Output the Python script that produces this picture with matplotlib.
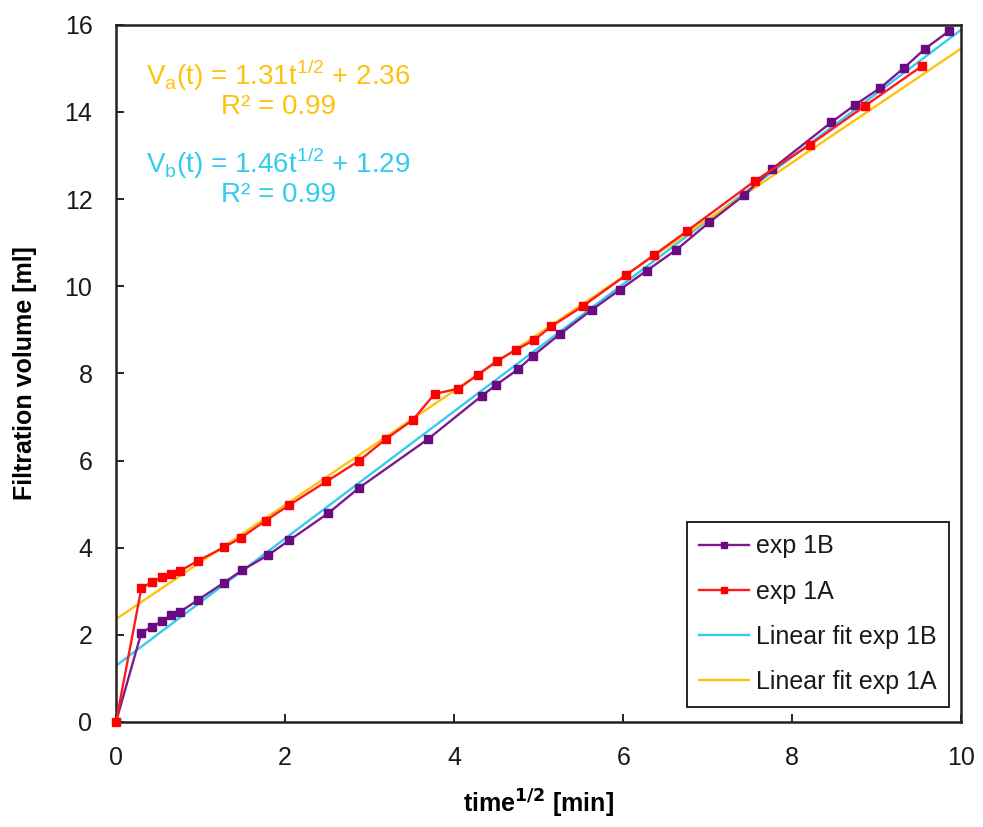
import matplotlib
matplotlib.use("Agg")
import matplotlib.pyplot as plt
import numpy as np

plt.rcParams['font.family'] = ['Liberation Sans', 'DejaVu Sans']

# exp 1A (red)
x_1a = [0, 0.30, 0.43, 0.55, 0.65, 0.76, 0.97, 1.28, 1.48, 1.77, 2.05, 2.49, 2.88, 3.19,
        3.51, 3.77, 4.05, 4.28, 4.51, 4.73, 4.95, 5.15, 5.52, 6.03, 6.36, 6.75, 7.56,
        8.21, 8.86, 9.53]
y_1a = [0, 3.07, 3.22, 3.32, 3.40, 3.47, 3.70, 4.01, 4.23, 4.62, 4.98, 5.52, 6.00, 6.49,
        6.93, 7.53, 7.65, 7.97, 8.29, 8.54, 8.77, 9.08, 9.54, 10.25, 10.71, 11.26, 12.42,
        13.25, 14.14, 15.05]

# exp 1B (purple)
x_1b = [0, 0.30, 0.43, 0.55, 0.65, 0.76, 0.97, 1.28, 1.49, 1.80, 2.05, 2.51, 2.88, 3.69,
        4.33, 4.50, 4.76, 4.93, 5.25, 5.63, 5.96, 6.28, 6.63, 7.02, 7.43, 7.76, 8.46,
        8.74, 9.04, 9.32, 9.57, 9.85]
y_1b = [0, 2.05, 2.19, 2.32, 2.45, 2.53, 2.80, 3.20, 3.48, 3.83, 4.17, 4.79, 5.38, 6.49,
        7.49, 7.74, 8.10, 8.40, 8.90, 9.46, 9.92, 10.36, 10.84, 11.47, 12.09, 12.69, 13.76,
        14.16, 14.55, 15.01, 15.45, 15.85]

# linear fits
slope_a, icpt_a = 1.31, 2.36
slope_b, icpt_b = 1.46, 1.29
fit_x = [0, 10]

c_purple = '#7E1A8E'
c_red = '#FF1A1A'
c_cyan = '#33CCEE'
c_yellow = '#FFC20E'

fig = plt.figure(figsize=(9.83, 8.27), dpi=100)
ax = fig.add_axes([0.118, 0.127, 0.860, 0.843])

fx = np.array(fit_x, dtype=float)
l_fb, = ax.plot(fx, slope_b * fx + icpt_b, color=c_cyan, lw=1.7, label='Linear fit exp 1B', zorder=2)
l_fa, = ax.plot(fx, slope_a * fx + icpt_a, color=c_yellow, lw=1.7, label='Linear fit exp 1A', zorder=2)
l_b, = ax.plot(x_1b, y_1b, color=c_purple, lw=1.7, marker='s', ms=6, mfc='#6A0A80', mec='#6A0A80',
               label='exp 1B', zorder=3)
l_a, = ax.plot(x_1a, y_1a, color=c_red, lw=1.7, marker='s', ms=6, mfc='#FF0000', mec='#FF0000',
               label='exp 1A', zorder=4, clip_on=False)

ax.set_xlim(0, 10)
ax.set_ylim(0, 16)
ax.set_xticks(np.arange(0, 11, 2))
ax.set_yticks(np.arange(0, 17, 2))
ax.tick_params(direction='in', length=6, width=1.2, labelsize=18, pad=17, labelcolor='#1a1a1a')
for s in ax.spines.values():
    s.set_linewidth(1.8)
    s.set_color('#222222')

ax.set_xlabel('time$^{\\mathbf{1/2}}$ [min]', fontsize=18, fontweight='bold', labelpad=13)
ax.set_ylabel('Filtration volume [ml]', fontsize=18, fontweight='bold', labelpad=20)

eq_x = 1.92
ax.text(eq_x, 14.84, 'V$_\\mathregular{a}$(t) = 1.31t$^\\mathregular{1/2}$ + 2.36', color=c_yellow,
        fontsize=20, ha='center', va='center')
ax.text(eq_x, 14.12, 'R² = 0.99', color=c_yellow, fontsize=20, ha='center', va='center')
ax.text(eq_x, 12.82, 'V$_\\mathregular{b}$(t) = 1.46t$^\\mathregular{1/2}$ + 1.29', color=c_cyan,
        fontsize=20, ha='center', va='center')
ax.text(eq_x, 12.1, 'R² = 0.99', color=c_cyan, fontsize=20, ha='center', va='center')

leg = ax.legend(handles=[l_b, l_a, l_fb, l_fa], loc='lower right', fontsize=18,
                fancybox=False, edgecolor='black', framealpha=1, borderpad=0.5,
                labelspacing=0.85, handlelength=2.0, handletextpad=0.25,
                bbox_to_anchor=(0.985, 0.022), borderaxespad=0, markerscale=0.8)
leg.get_frame().set_linewidth(1.2)
for t in leg.get_texts():
    t.set_color('#1a1a1a')

fig.savefig('out.png', dpi=100)
